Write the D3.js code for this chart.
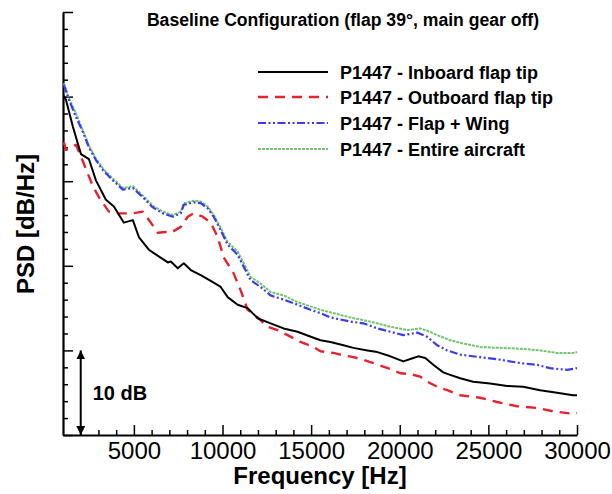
<!DOCTYPE html>
<html>
<head>
<meta charset="utf-8">
<script src="https://cdn.jsdelivr.net/npm/d3@7"></script>
<style>
  html, body { margin: 0; padding: 0; background: #fff; }
  svg { display: block; font-family: "Liberation Sans", Arial, sans-serif; }
</style>
</head>
<body>
<svg id="chart" width="612" height="494"></svg>
<script>
// ---------------- DATA ----------------
const chartTitle = "Baseline Configuration (flap 39\u00B0, main gear off)";
const xLabel = "Frequency [Hz]";
const yLabel = "PSD [dB/Hz]";
const xTickValues = [5000, 10000, 15000, 20000, 25000, 30000];
const seriesNames = ["P1447 - Inboard flap tip", "P1447 - Outboard flap tip", "P1447 - Flap + Wing", "P1447 - Entire aircraft"];

// relative level in dB (0 = bottom of axis, 50 = top of axis)
const inboardFreq = [1050, 1169, 1563, 2014, 2464, 2858, 3421, 3872, 4435, 4942, 5280, 5843, 6124, 6913, 7081, 7476, 7814, 8208, 8771, 9503, 9897, 10291, 10854, 11417, 11980, 12712, 13445, 14233, 15134, 15528, 16091, 16823, 17386, 18175, 18738, 19470, 20201, 20765, 21046, 21440, 21891, 22454, 22848, 23411, 24143, 25100, 26057, 26959, 27916, 28873, 29774, 30000];
const inboardDb   = [40.1, 39.6, 36.4, 33.2, 32.6, 30.1, 27.8, 27.0, 25.1, 25.4, 23.4, 21.9, 21.5, 20.4, 20.5, 19.7, 20.3, 19.5, 18.9, 18.0, 17.5, 16.3, 15.4, 15.0, 13.8, 13.2, 12.6, 12.2, 11.5, 11.2, 11.0, 10.6, 10.3, 10.0, 9.8, 9.3, 8.7, 9.1, 9.3, 9.1, 8.3, 7.4, 7.1, 6.7, 6.3, 6.1, 5.8, 5.7, 5.3, 5.0, 4.7, 4.7];

const outboardFreq = [1050, 1169, 1732, 2014, 2689, 3027, 3590, 4097, 4942, 5505, 5955, 6349, 6800, 7081, 7645, 8039, 8377, 8883, 9334, 9728, 10066, 10629, 11023, 11417, 11980, 12544, 13107, 13670, 14402, 15134, 15528, 16260, 16654, 17386, 17949, 18512, 19470, 20033, 20596, 21159, 21553, 22116, 22679, 23411, 24537, 25494, 26621, 27747, 28648, 29774, 30000];
const outboardDb   = [34.6, 33.7, 34.3, 32.9, 29.4, 28.1, 26.4, 26.2, 26.2, 26.4, 25.1, 23.9, 24.0, 23.9, 24.6, 25.8, 26.2, 25.8, 25.1, 23.4, 21.0, 19.1, 17.1, 14.8, 13.9, 12.8, 12.4, 11.8, 11.0, 10.4, 9.9, 9.7, 9.5, 9.2, 8.9, 8.5, 7.8, 7.3, 7.2, 6.9, 6.3, 5.7, 5.3, 4.7, 4.4, 3.9, 3.4, 3.2, 2.8, 2.5, 2.6];

const flapWingFreq = [1050, 1338, 1732, 2126, 2464, 2858, 3252, 3816, 4379, 4942, 5505, 6068, 6631, 7194, 7645, 7814, 8377, 8771, 9165, 9503, 9897, 10291, 10854, 11192, 11586, 12149, 12712, 13445, 14233, 14965, 15528, 16091, 17217, 17949, 18738, 19470, 20201, 20990, 21553, 22116, 22679, 23411, 24537, 25663, 26790, 27747, 28479, 29436, 30000];
const flapWingDb   = [41.4, 39.6, 37.6, 35.8, 34.0, 32.5, 31.3, 30.1, 29.0, 29.2, 28.1, 26.9, 26.2, 25.8, 26.2, 27.2, 27.5, 27.4, 26.8, 25.8, 24.2, 22.5, 21.3, 19.9, 18.3, 17.5, 16.5, 16.0, 15.4, 14.8, 14.4, 13.9, 13.4, 13.2, 12.6, 12.2, 11.8, 12.1, 11.6, 10.6, 10.0, 9.5, 9.2, 8.9, 8.5, 8.3, 7.9, 7.7, 7.9];

const aircraftFreq = [1050, 1338, 1732, 2126, 2464, 2858, 3252, 3816, 4379, 4942, 5505, 6068, 6631, 7194, 7645, 7814, 8377, 8771, 9165, 9503, 9897, 10291, 10854, 11192, 11586, 12149, 12712, 13445, 14233, 14965, 15528, 16091, 17217, 18343, 19470, 20427, 21159, 21722, 22116, 22848, 23411, 24537, 25663, 26790, 27916, 28873, 29774, 30000];
const aircraftDb   = [41.6, 39.8, 38.0, 36.0, 34.2, 32.7, 31.5, 30.3, 29.2, 29.4, 28.3, 27.1, 26.4, 26.0, 26.4, 27.4, 27.7, 27.6, 27.0, 26.0, 24.5, 22.8, 21.7, 20.3, 18.7, 17.9, 16.9, 16.5, 15.7, 15.2, 14.8, 14.5, 13.9, 13.4, 12.8, 12.4, 12.6, 12.2, 11.8, 11.2, 10.9, 10.4, 10.3, 10.2, 10.0, 9.7, 9.7, 9.8];

const scaleBarFreq = 2000;      // position of the 10 dB arrow
const scaleBarDb = [0, 10];
const scaleBarLabel = "10 dB";

// ---------------- CHART ----------------
const svg = d3.select("#chart");
const x = d3.scaleLinear().domain([1000, 30000]).range([63, 577]);
const y = d3.scaleLinear().domain([0, 50]).range([435, 12]);

const styles = [
  { color: "#000000", width: 2,   dash: null },
  { color: "#e8212b", width: 2.4, dash: "10,7" },
  { color: "#3b3bf2", width: 2.2, dash: "8,2.5,2,2.5,2,2.5" },
  { color: "#72c46e", width: 2,   dash: "3,1" }
];
const series = [
  { f: inboardFreq,  v: inboardDb },
  { f: outboardFreq, v: outboardDb },
  { f: flapWingFreq, v: flapWingDb },
  { f: aircraftFreq, v: aircraftDb }
];

// axes
const minorX = d3.range(2000, 30000, 1000).filter(d => d % 5000 !== 0);
const minorY = d3.range(2, 50, 2).filter(d => d % 10 !== 0);

const gx = svg.append("g").attr("transform", "translate(0,435)");
gx.call(d3.axisBottom(x).tickValues(minorX).tickSize(-5).tickSizeOuter(0).tickFormat(""));
gx.select(".domain").remove();
const gx2 = svg.append("g").attr("transform", "translate(0,435)");
gx2.call(d3.axisBottom(x).tickValues(xTickValues).tickSize(-10).tickSizeOuter(0).tickPadding(7).tickFormat(d3.format("d")));
gx2.selectAll("text").attr("font-size", 24).attr("fill", "#000").attr("font-family", "Liberation Sans, Arial, sans-serif");

const gy = svg.append("g").attr("transform", "translate(63,0)");
gy.call(d3.axisLeft(y).tickValues(minorY).tickSize(-5).tickSizeOuter(0).tickFormat(""));
gy.select(".domain").remove();
const gy2 = svg.append("g").attr("transform", "translate(63,0)");
gy2.call(d3.axisLeft(y).tickValues([0, 10, 20, 30, 40, 50]).tickSize(-10).tickSizeOuter(0).tickFormat(""));

svg.selectAll(".domain").attr("stroke", "#000").attr("stroke-width", 2.2);
svg.selectAll(".tick line").attr("stroke", "#000").attr("stroke-width", 1.5);

// lines
const line = d3.line().x(d => x(d[0])).y(d => y(d[1]));
[3, 2, 1, 0].forEach(i => {
  const s = series[i], st = styles[i];
  svg.append("path")
    .datum(s.f.map((f, k) => [f, s.v[k]]))
    .attr("d", line)
    .attr("fill", "none")
    .attr("stroke", st.color)
    .attr("stroke-width", st.width)
    .attr("stroke-linejoin", "round")
    .attr("stroke-dasharray", st.dash);
});

// 10 dB scale arrow
const defs = svg.append("defs");
defs.append("marker").attr("id", "ah").attr("viewBox", "0 0 10 10").attr("refX", 10).attr("refY", 5)
  .attr("markerWidth", 4.5).attr("markerHeight", 4.5).attr("orient", "auto-start-reverse")
  .attr("markerUnits", "strokeWidth")
  .append("path").attr("d", "M0,0 L10,5 L0,10 z").attr("fill", "#000");
svg.append("line")
  .attr("x1", x(scaleBarFreq)).attr("x2", x(scaleBarFreq))
  .attr("y1", y(scaleBarDb[0])).attr("y2", y(scaleBarDb[1]))
  .attr("stroke", "#000").attr("stroke-width", 2)
  .attr("marker-start", "url(#ah)").attr("marker-end", "url(#ah)");
svg.append("text")
  .attr("x", x(scaleBarFreq) + 12).attr("y", y((scaleBarDb[0] + scaleBarDb[1]) / 2) + 7)
  .attr("font-size", 20).attr("font-weight", "bold").text(scaleBarLabel);

// title
svg.append("text").attr("x", 343).attr("y", 26).attr("text-anchor", "middle")
  .attr("font-size", 17.6).attr("font-weight", "bold").text(chartTitle);

// legend
const legendY = [72, 97, 123, 149];
seriesNames.forEach((name, i) => {
  const st = styles[i];
  svg.append("line").attr("x1", 258).attr("x2", 328).attr("y1", legendY[i]).attr("y2", legendY[i])
    .attr("stroke", st.color).attr("stroke-width", st.width).attr("stroke-dasharray", st.dash);
  svg.append("text").attr("x", 340).attr("y", legendY[i] + 6.5)
    .attr("font-size", 18).attr("font-weight", "bold").text(name);
});

// axis labels
svg.append("text").attr("x", 320).attr("y", 484).attr("text-anchor", "middle")
  .attr("font-size", 24).attr("font-weight", "bold").text(xLabel);
svg.append("text").attr("transform", "translate(34,224) rotate(-90)").attr("text-anchor", "middle")
  .attr("font-size", 24).attr("font-weight", "bold").text(yLabel);
</script>
</body>
</html>
